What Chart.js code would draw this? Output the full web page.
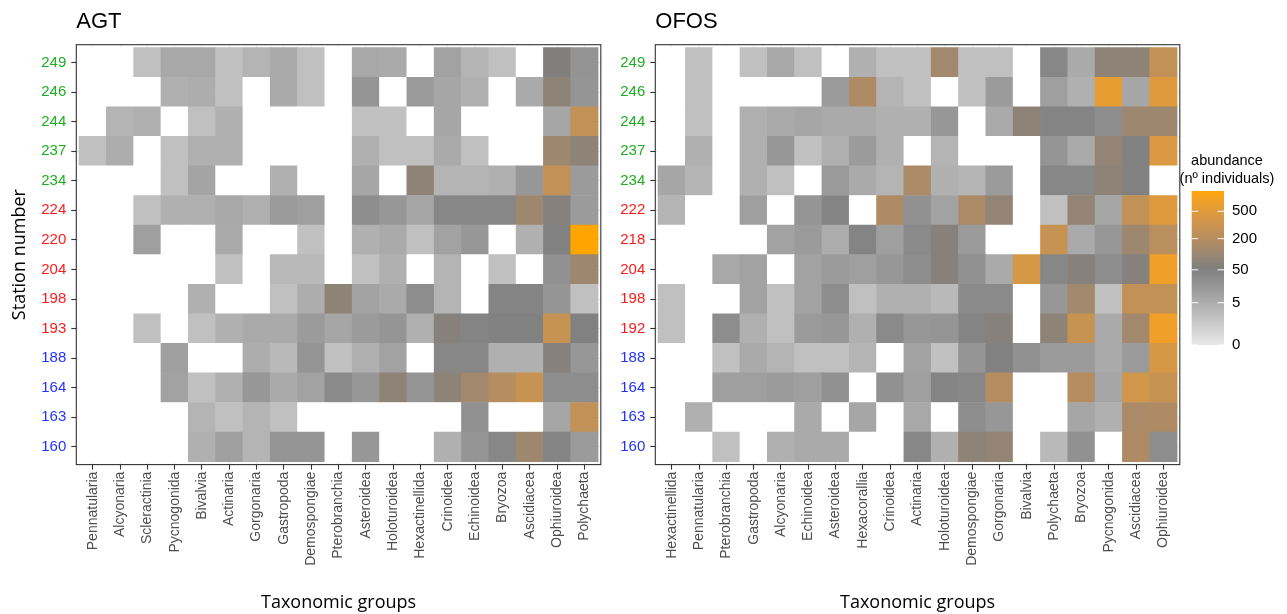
<!DOCTYPE html>
<html>
<head>
<meta charset="utf-8">
<script src="https://cdn.jsdelivr.net/npm/chart.js@4.4.1/dist/chart.umd.min.js"></script>
<style>
  html, body { margin: 0; padding: 0; background: #ffffff; }
  #wrap { position: relative; width: 1287px; height: 614px; overflow: hidden; background: #ffffff; }
  canvas { position: absolute; top: 0; }
  #agt { left: 0; }
  #ofos { left: 579px; }
</style>
</head>
<body>
<div id="wrap">
  <canvas id="agt" width="640" height="614"></canvas>
  <canvas id="ofos" width="708" height="614"></canvas>
</div>
<script>
// ---- AGT trawl catches: abundance (n° individuals) per station (rows, top to bottom) and group ----
const agtGroups = ['Pennatularia', 'Alcyonaria', 'Scleractinia', 'Pycnogonida', 'Bivalvia', 'Actinaria',
  'Gorgonaria', 'Gastropoda', 'Demospongiae', 'Pterobranchia', 'Asteroidea', 'Holoturoidea',
  'Hexactinellida', 'Crinoidea', 'Echinoidea', 'Bryozoa', 'Ascidiacea', 'Ophiuroidea', 'Polychaeta'];
const agtStations = ['249', '246', '244', '237', '234', '224', '220', '204', '198', '193', '188', '164', '163', '160'];
const agtCounts = [
  [null, null, 1, 7, 7, 1, 3, 6, 1, null, 7, 6, null, 10, 3, 1, null, 58, 22],          // 249
  [null, null, null, 4, 5, 1, null, 6, 1, null, 20, null, 15, 8, 4, null, 6, 80, 20],    // 246
  [null, 3, 4, null, 1, 4, null, null, null, null, 1, 1, null, 8, null, null, null, 8, 260], // 244
  [1, 5, null, 1, 4, 4, null, null, null, null, 4, 1, 1, 6, 1, null, null, 115, 80],     // 237
  [null, null, null, 1, 9, null, null, 4, null, null, 8, null, 80, 3, 3, 4, 18, 260, 15], // 234
  [null, null, 1, 4, 4, 7, 4, 15, 12, null, 30, 18, 8, 40, 40, 40, 115, 65, 15],         // 224
  [null, null, 12, null, null, 6, null, null, 1, null, 4, 6, 1, 10, 18, null, 4, 50, 880], // 220
  [null, null, null, null, null, 1, null, 2, 2, null, 1, 4, null, 3, null, 1, null, 25, 115], // 204
  [null, null, null, null, 4, null, null, 1, 5, 80, 10, 6, 30, 3, null, 45, 45, 20, 1],  // 198
  [null, null, 1, null, 1, 4, 6, 6, 15, 8, 15, 20, 4, 65, 45, 50, 50, 300, 50],          // 193
  [null, null, null, 12, null, null, 5, 2, 20, 1, 4, 10, null, 40, 40, 4, 4, 65, 18],    // 188
  [null, null, null, 10, 1, 4, 18, 6, 10, 35, 18, 80, 20, 80, 130, 200, 300, 30, 30],    // 164
  [null, null, null, null, 3, 1, 3, 1, null, null, null, null, null, null, 25, null, null, 8, 260], // 163
  [null, null, null, null, 4, 12, 3, 20, 20, null, 18, null, null, 4, 20, 40, 115, 45, 15] // 160
];

// ---- OFOS imagery: abundance per station and group ----
const ofosGroups = ['Hexactinellida', 'Pennatularia', 'Pterobranchia', 'Gastropoda', 'Alcyonaria', 'Echinoidea',
  'Asteroidea', 'Hexacorallia', 'Crinoidea', 'Actinaria', 'Holoturoidea', 'Demospongiae', 'Gorgonaria',
  'Bivalvia', 'Polychaeta', 'Bryozoa', 'Pycnogonida', 'Ascidiacea', 'Ophiuroidea'];
const ofosStations = ['249', '246', '244', '237', '234', '222', '218', '204', '198', '192', '188', '164', '163', '160'];
const ofosCounts = [
  [null, 1, null, 1, 7, 1, null, 4, 1, 1, 130, 1, 1, null, 40, 6, 80, 80, 260],          // 249
  [null, 1, null, null, null, null, 15, 170, 3, 1, null, 1, 15, null, 12, 4, 580, 8, 480], // 246
  [null, 1, null, 4, 6, 8, 6, 6, 4, 4, 18, null, 6, 80, 45, 45, 30, 115, 115],          // 244
  [null, 4, null, 4, 18, 1, 4, 15, 4, null, 3, null, null, null, 20, 6, 90, 50, 440],    // 237
  [8, 3, null, 4, 1, null, 15, 6, 3, 155, 4, 3, 15, null, 40, 40, 80, 50, null],         // 234
  [3, null, null, 12, null, 20, 45, null, 170, 25, 10, 155, 90, null, 1, 90, 8, 260, 480], // 222
  [null, null, null, null, 10, 15, 5, 45, 12, 35, 65, 15, null, null, 300, 6, 18, 115, 220], // 218
  [null, null, 7, 10, null, 10, 15, 12, 18, 30, 65, 25, 6, 410, 40, 65, 30, 65, 670],    // 204
  [1, null, null, 10, 1, 10, 30, 1, 4, 4, 2, 35, 35, null, 18, 130, 1, 260, 260],        // 198
  [1, null, 30, 4, 1, 15, 18, 4, 35, 18, 20, 45, 65, null, 80, 300, 6, 130, 670],        // 192
  [null, null, 1, 6, 3, 1, 1, 3, null, 10, 1, 20, 50, 25, 15, 15, 6, 15, 410],           // 188
  [null, null, 12, 12, 15, 12, 25, null, 25, 12, 45, 40, 200, null, null, 200, 8, 360, 300], // 164
  [null, 4, null, null, null, 6, null, 8, null, 7, null, 30, 18, null, null, 8, 4, 155, 170], // 163
  [null, null, 1, null, 4, 6, 6, null, null, 40, 4, 80, 90, null, 2, 25, null, 170, 30]  // 160
];

// colour bar breaks
const legendBreaks = [0, 5, 50, 200, 500];

// ---- shared fill scale: fourth-root transform, light grey -> grey -> orange (interpolated in Lab) ----
const allValues = agtCounts.flat().concat(ofosCounts.flat()).filter(v => v != null);
const vMax = Math.max(...allValues);
const FILL_LOW = '#e8e8e8', FILL_MID = '#7f7f7f', FILL_HIGH = '#ffa500', NA_FILL = '#ffffff';

function hexToRgb(h) {
  const n = parseInt(h.slice(1), 16);
  return [(n >> 16) & 255, (n >> 8) & 255, n & 255];
}
function toLin(c) { c /= 255; return c <= 0.04045 ? c / 12.92 : Math.pow((c + 0.055) / 1.055, 2.4); }
function fromLin(c) {
  const v = c <= 0.0031308 ? 12.92 * c : 1.055 * Math.pow(c, 1 / 2.4) - 0.055;
  return Math.round(Math.max(0, Math.min(1, v)) * 255);
}
const XN = 0.95047, YN = 1.0, ZN = 1.08883;
function labF(t) { return t > 0.008856 ? Math.cbrt(t) : 7.787 * t + 16 / 116; }
function labFinv(t) { const t3 = t * t * t; return t3 > 0.008856 ? t3 : (t - 16 / 116) / 7.787; }
function rgbToLab(rgb) {
  const [r, g, b] = rgb.map(toLin);
  const x = (0.4124 * r + 0.3576 * g + 0.1805 * b) / XN;
  const y = (0.2126 * r + 0.7152 * g + 0.0722 * b) / YN;
  const z = (0.0193 * r + 0.1192 * g + 0.9505 * b) / ZN;
  const fx = labF(x), fy = labF(y), fz = labF(z);
  return [116 * fy - 16, 500 * (fx - fy), 200 * (fy - fz)];
}
function labToRgb(lab) {
  const fy = (lab[0] + 16) / 116, fx = lab[1] / 500 + fy, fz = fy - lab[2] / 200;
  const x = XN * labFinv(fx), y = YN * labFinv(fy), z = ZN * labFinv(fz);
  const r = 3.2406 * x - 1.5372 * y - 0.4986 * z;
  const g = -0.9689 * x + 1.8758 * y + 0.0415 * z;
  const b = 0.0557 * x - 0.2040 * y + 1.0570 * z;
  return [fromLin(r), fromLin(g), fromLin(b)];
}
const LAB_STOPS = [FILL_LOW, FILL_MID, FILL_HIGH].map(h => rgbToLab(hexToRgb(h)));
function rampColour(t) {
  t = Math.max(0, Math.min(1, t));
  const seg = t <= 0.5 ? 0 : 1;
  const u = seg === 0 ? t / 0.5 : (t - 0.5) / 0.5;
  const a = LAB_STOPS[seg], b = LAB_STOPS[seg + 1];
  const rgb = labToRgb([0, 1, 2].map(k => a[k] + (b[k] - a[k]) * u));
  return 'rgb(' + rgb.join(',') + ')';
}
function rootPos(v) { return Math.pow(v, 0.25) / Math.pow(vMax, 0.25); }
function fillFor(v) { return v == null ? NA_FILL : rampColour(rootPos(v)); }

// station labels are coloured by depth zone (5 / 5 / 4 stations, top to bottom)
function zoneColour(rowFromTop) {
  if (rowFromTop < 5) return '#1fae1f';
  if (rowFromTop < 10) return '#ff1a1a';
  return '#2233ff';
}

const SANS = "'Liberation Sans', Arial, Helvetica, sans-serif";
const TITLE_SANS = "'Open Sans', 'Noto Sans', sans-serif";

// panel frame drawn around the plotting area
const framePlugin = {
  id: 'panelFrame',
  afterDatasetsDraw(chart) {
    const a = chart.chartArea, ctx = chart.ctx;
    ctx.save();
    ctx.strokeStyle = '#333333';
    ctx.lineWidth = 1.1;
    ctx.strokeRect(a.left, a.top, a.right - a.left, a.bottom - a.top);
    ctx.restore();
  }
};

// colour bar legend for the abundance scale
const colourBarPlugin = {
  id: 'colourBar',
  afterDraw(chart) {
    const ctx = chart.ctx;
    const barL = 612.7, barW = 32.3, barTop = 191, barBot = 345;
    const span = barBot - barTop;
    ctx.save();
    for (let y = 0; y < span; y += 1) {
      const t = 1 - (y + 0.5) / span;
      ctx.fillStyle = rampColour(t);
      ctx.fillRect(barL, barTop + y, barW, 1.05);
    }
    ctx.strokeStyle = '#ffffff';
    ctx.lineWidth = 1;
    ctx.fillStyle = '#000000';
    ctx.font = '15px ' + SANS;
    ctx.textAlign = 'left';
    ctx.textBaseline = 'middle';
    legendBreaks.forEach(b => {
      const y = barBot - span * rootPos(b);
      ctx.beginPath();
      ctx.moveTo(barL, y); ctx.lineTo(barL + barW / 5, y);
      ctx.moveTo(barL + barW, y); ctx.lineTo(barL + barW * 4 / 5, y);
      ctx.stroke();
      ctx.fillText(String(b), 653, y);
    });
    ctx.textAlign = 'center';
    ctx.font = '14.5px ' + SANS;
    ctx.fillText('abundance', 648, 160.5);
    ctx.fillText('(nº individuals)', 648, 178.5);
    ctx.restore();
  }
};

function buildChart(canvasId, title, groups, stations, counts, padRight, showYTitle, extraPlugins) {
  const n = stations.length;
  const bottomUp = stations.slice().reverse();
  const datasets = [];
  for (let r = 0; r < n; r++) {
    const rowTop = n - 1 - r;
    datasets.push({
      label: stations[rowTop],
      data: groups.map((g, j) => ({ x: j, y: 1 })),
      backgroundColor: counts[rowTop].map(fillFor),
      borderWidth: 0,
      barPercentage: 1,
      categoryPercentage: 1
    });
  }
  return new Chart(document.getElementById(canvasId), {
    type: 'bar',
    data: { datasets },
    plugins: [framePlugin].concat(extraPlugins || []),
    options: {
      responsive: false,
      animation: false,
      devicePixelRatio: 1,
      layout: { padding: { left: 0, right: padRight, top: 0, bottom: 0 } },
      plugins: {
        legend: { display: false },
        tooltip: { enabled: false },
        title: {
          display: true, text: title, align: 'start', fullSize: false, color: '#000000',
          font: { family: SANS, size: 22, weight: 'normal' },
          padding: { top: 8.5, bottom: 9.8 }
        }
      },
      scales: {
        x: {
          type: 'linear', stacked: true, offset: false,
          min: -0.6, max: groups.length - 0.4,
          afterBuildTicks: s => { s.ticks = groups.map((g, i) => ({ value: i })); },
          afterFit: s => { s.height = 149.4; },
          grid: { offset: false, color: '#ebebeb', lineWidth: 1, drawTicks: true, tickLength: 5, tickColor: '#333333', tickWidth: 1.1 },
          border: { display: false },
          ticks: {
            autoSkip: false, maxRotation: 90, minRotation: 90, padding: 2,
            color: '#4d4d4d', font: { family: SANS, size: 14 },
            callback: (v, i) => groups[i]
          },
          title: {
            display: true, text: 'Taxonomic groups', color: '#000000',
            font: { family: TITLE_SANS, size: 18 }, padding: { top: 0, bottom: 0.5 }
          }
        },
        y: {
          type: 'linear', stacked: true,
          min: -0.1, max: n + 0.1,
          afterBuildTicks: s => { s.ticks = bottomUp.map((st, i) => ({ value: i + 0.5 })); },
          afterFit: s => { s.width = 76.3; },
          grid: { color: '#ebebeb', lineWidth: 1, drawTicks: true, tickLength: 5, tickColor: '#333333', tickWidth: 1.1 },
          border: { display: false },
          ticks: {
            autoSkip: false, padding: 5,
            color: c => zoneColour(n - 1 - c.index),
            font: { family: SANS, size: 15 },
            callback: (v, i) => bottomUp[i]
          },
          title: {
            display: showYTitle, text: 'Station number', color: '#000000',
            font: { family: TITLE_SANS, size: 18 }, padding: { top: 8.9, bottom: 0 }
          }
        }
      }
    }
  });
}

buildChart('agt', 'AGT', agtGroups, agtStations, agtCounts, 39.2, true, []);
buildChart('ofos', 'OFOS', ofosGroups, ofosStations, ofosCounts, 107.2, false, [colourBarPlugin]);
</script>
</body>
</html>
